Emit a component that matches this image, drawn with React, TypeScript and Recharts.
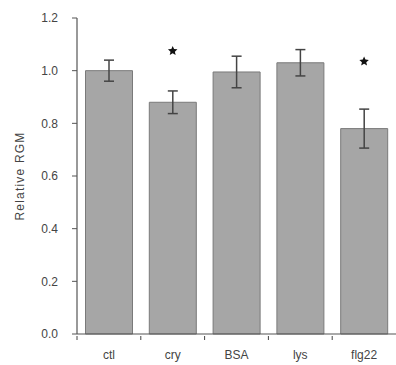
import React from 'react';
import { ComposedChart, Bar, XAxis, YAxis, ErrorBar, Scatter } from 'recharts';

const categories = ['ctl', 'cry', 'BSA', 'lys', 'flg22'];
const means = [1.0, 0.88, 0.995, 1.03, 0.78];
const errors = [0.04, 0.043, 0.06, 0.05, 0.074];
const starLevels: (number | null)[] = [null, 1.075, null, null, 1.035];
const yTicks = [0, 0.2, 0.4, 0.6, 0.8, 1.0, 1.2];

const data = categories.map((c, i) => ({
  name: c,
  value: means[i],
  err: errors[i],
  star: starLevels[i],
}));

const W = 396;
const H = 365;
const LEFT = 77;
const BAND = (W - LEFT) / categories.length;
const FONT = 'Liberation Sans, Arial, sans-serif';

const XTick = (props: any) => {
  const { x, y, payload } = props;
  const bx = x - BAND / 2;
  return (
    <g>
      <line x1={bx} y1={y - 6} x2={bx} y2={y - 2} stroke="#444" strokeWidth={1} />
      <text x={x} y={y + 17} textAnchor="middle" fontSize={12} fill="#444" fontFamily={FONT}>
        {payload.value}
      </text>
    </g>
  );
};

const StarShape = (props: any) => {
  const { cx, cy, payload } = props;
  if (payload == null || payload.star == null || !isFinite(cx) || !isFinite(cy)) return null;
  const R = 5;
  const r = 2.3;
  const pts: string[] = [];
  for (let k = 0; k < 10; k++) {
    const rad = k % 2 === 0 ? R : r;
    const a = -Math.PI / 2 + (k * Math.PI) / 5;
    pts.push(`${cx + rad * Math.cos(a)},${cy + rad * Math.sin(a)}`);
  }
  return <polygon points={pts.join(' ')} fill="#111" />;
};

export default function App() {
  return (
    <div style={{ position: 'absolute', left: 0, top: 0, width: W, height: H, background: '#fff' }}>
      <ComposedChart
        width={W}
        height={H}
        data={data}
        margin={{ top: 18, right: 0, bottom: 0, left: 0 }}
        barCategoryGap={8.5}
      >
        <XAxis
          dataKey="name"
          height={31}
          axisLine={{ stroke: '#555', strokeWidth: 1.2 }}
          tickLine={false}
          tick={<XTick />}
          interval={0}
        />
        <YAxis
          width={LEFT}
          domain={[0, 1.2]}
          ticks={yTicks}
          tickFormatter={(v: number) => v.toFixed(1)}
          axisLine={{ stroke: '#555', strokeWidth: 1.2 }}
          tickLine={{ stroke: '#555' }}
          tickSize={5}
          tickMargin={14}
          tick={{ fontSize: 12, fill: '#444', fontFamily: FONT }}
          label={{
            value: 'Relative RGM',
            angle: -90,
            position: 'insideLeft',
            offset: 20,
            fill: '#444',
            fontSize: 12,
            fontFamily: FONT,
            style: { textAnchor: 'middle', letterSpacing: '1.2px', fill: '#444' },
          }}
        />
        <Bar dataKey="value" fill="#a6a6a6" stroke="#7a7a7a" strokeWidth={1} isAnimationActive={false}>
          <ErrorBar dataKey="err" width={5} stroke="#444" strokeWidth={1.5} />
        </Bar>
        <Scatter dataKey="star" shape={<StarShape />} isAnimationActive={false} />
      </ComposedChart>
    </div>
  );
}
